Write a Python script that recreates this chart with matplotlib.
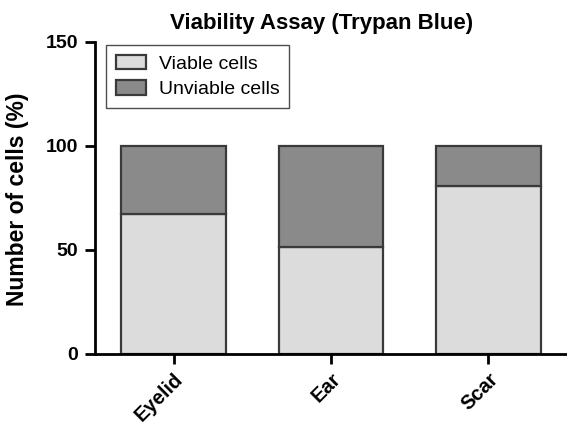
import matplotlib
matplotlib.use("Agg")
import matplotlib.pyplot as plt
import numpy as np

plt.rcParams['font.family'] = ['Liberation Sans', 'DejaVu Sans']

categories = ["Eyelid", "Ear", "Scar"]
viable = [67.2, 51.3, 80.9]
unviable = [32.8, 48.7, 19.1]
yticks = [0, 50, 100, 150]

fig = plt.figure(figsize=(5.67, 4.26), dpi=100)
ax = fig.add_axes([95/567, 72/426, 472/567, 312/426])

x = np.arange(len(categories))
w = 0.667
ec = '#3a3a3a'
ax.bar(x, viable, w, color='#dcdcdc', edgecolor=ec, linewidth=1.6, label='Viable cells', zorder=2)
ax.bar(x, unviable, w, bottom=viable, color='#8a8a8a', edgecolor=ec, linewidth=1.6, label='Unviable cells', zorder=2)

ax.set_xlim(-0.5, 2.5)
ax.set_ylim(0, 150)
ax.set_yticks(yticks)
ax.set_yticklabels([str(t) for t in yticks], fontsize=14, fontweight='bold')
ax.set_xticks(x)
ax.set_xticklabels(categories, fontsize=14.5, fontweight='bold', rotation=45, ha='right', va='top', rotation_mode='anchor')

for s in ['top', 'right']:
    ax.spines[s].set_visible(False)
for s in ['left', 'bottom']:
    ax.spines[s].set_linewidth(2.0)
    ax.spines[s].set_color('black')
ax.tick_params(axis='both', width=2.0, length=7, direction='out', colors='black')
ax.tick_params(axis='x', pad=4)
ax.tick_params(axis='y', pad=5)

ax.set_ylabel("Number of cells (%)", fontsize=16.5, fontweight='bold')
ax.yaxis.set_label_coords(-0.14, 0.495)
fig.text(322/567, (426-29)/426, "Viability Assay (Trypan Blue)", fontsize=16, fontweight='bold',
         ha='center', va='baseline')

leg = ax.legend(loc='upper left', bbox_to_anchor=(0.0233, 0.5, 0.388, 0.49), mode='expand', borderaxespad=0,
                fontsize=14, frameon=True, fancybox=False, edgecolor='#222222',
                handlelength=1.55, handleheight=0.77, handletextpad=0.67, borderpad=0.5, labelspacing=0.38)
leg.get_frame().set_linewidth(1.0)

fig.savefig("out.png", dpi=100)
